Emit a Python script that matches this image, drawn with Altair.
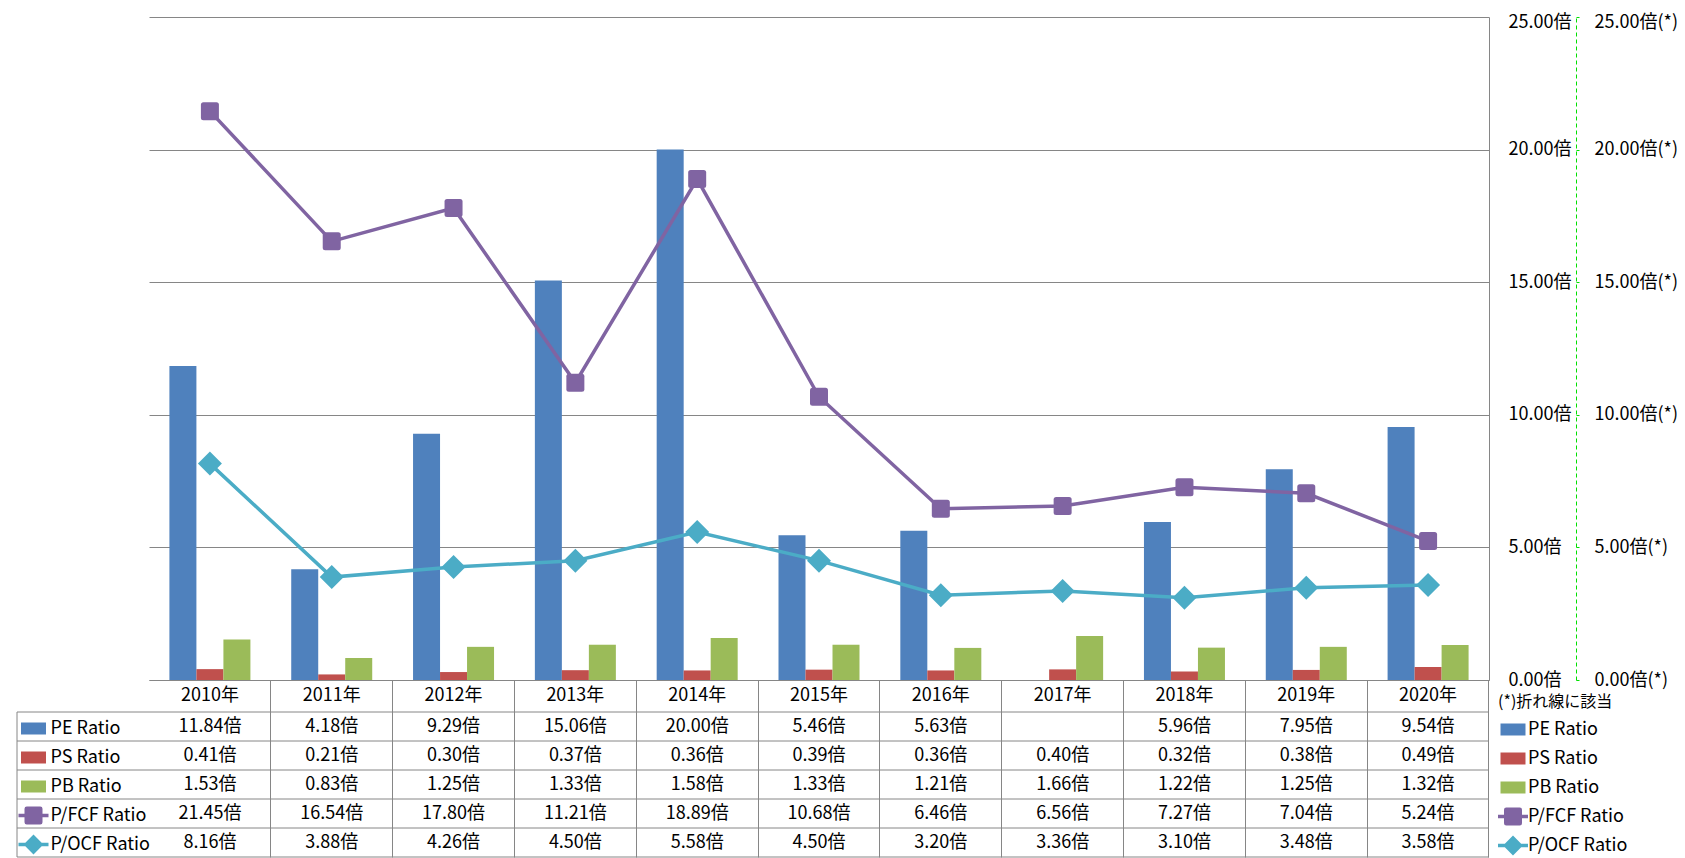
import altair as alt
import pandas as pd

# ---------------- data ----------------
years = ["2010年", "2011年", "2012年", "2013年", "2014年", "2015年",
         "2016年", "2017年", "2018年", "2019年", "2020年"]
series_names = ["PE Ratio", "PS Ratio", "PB Ratio", "P/FCF Ratio", "P/OCF Ratio"]
series_colors = ["#4F81BD", "#C0504D", "#9BBB59", "#8064A2", "#4BACC6"]
bar_series = ["PE Ratio", "PS Ratio", "PB Ratio"]
line_series = ["P/FCF Ratio", "P/OCF Ratio"]

pe_ratio = [11.84, 4.18, 9.29, 15.06, 20.00, 5.46, 5.63, None, 5.96, 7.95, 9.54]
ps_ratio = [0.41, 0.21, 0.30, 0.37, 0.36, 0.39, 0.36, 0.40, 0.32, 0.38, 0.49]
pb_ratio = [1.53, 0.83, 1.25, 1.33, 1.58, 1.33, 1.21, 1.66, 1.22, 1.25, 1.32]
pfcf_ratio = [21.45, 16.54, 17.80, 11.21, 18.89, 10.68, 6.46, 6.56, 7.27, 7.04, 5.24]
pocf_ratio = [8.16, 3.88, 4.26, 4.50, 5.58, 4.50, 3.20, 3.36, 3.10, 3.48, 3.58]

value_ticks = [0, 5, 10, 15, 20, 25]
unit = "倍"
line_unit = "倍(*)"
legend_note = "(*)折れ線に該当"

# ---------------- layout / style ----------------
FONT = "Noto Sans CJK JP"
FS = 18
GRAY = "#868686"
GREEN = "#00E000"
PAD_LEFT, PAD_TOP = 141, 9
PLOT_W, PLOT_H = 1340, 663
SVG_W, SVG_H = 1669, 850
HEADER_H, ROW_H = 32, 29
LABEL_COL_W = 132
BAR_W = 27
TOP_LABEL_NUDGE = 5
N_ROWS = len(series_names)
STEP = PLOT_W / len(years)
TABLE_TOP = PLOT_H
TABLE_BOTTOM = PLOT_H + HEADER_H + N_ROWS * ROW_H
HR = HEADER_H / ROW_H
BAR_PAD_OUTER = (STEP - BAR_W * len(bar_series)) / 2 / BAR_W

all_values = {"PE Ratio": pe_ratio, "PS Ratio": ps_ratio, "PB Ratio": pb_ratio,
              "P/FCF Ratio": pfcf_ratio, "P/OCF Ratio": pocf_ratio}

bar_rows, line_rows, table_rows = [], [], []
for s in bar_series:
    for y, v in zip(years, all_values[s]):
        if v is not None:
            bar_rows.append({"year": y, "series": s, "value": v})
for s in line_series:
    for y, v in zip(years, all_values[s]):
        line_rows.append({"year": y, "series": s, "value": v})
for y in years:
    table_rows.append({"year": y, "ty": -HR / 2, "label": y})
for i, s in enumerate(series_names):
    for y, v in zip(years, all_values[s]):
        table_rows.append({"year": y, "ty": i + 0.5,
                           "label": "" if v is None else f"{v:.2f}{unit}"})

bar_df = pd.DataFrame(bar_rows)
line_df = pd.DataFrame(line_rows)
table_df = pd.DataFrame(table_rows)
row_lines_df = pd.DataFrame({"b": list(range(N_ROWS + 1))})
left_border_df = pd.DataFrame({"b": [0], "b2": [N_ROWS]})
legend_df = pd.DataFrame({"series": series_names})

# ---------------- symbols ----------------
rect_sym = "M-0.833,-0.4H0.833V0.4H-0.833Z"
fcf_sym = ("M-1,-0.12H1V0.12H-1Z M-0.45,-0.6H0.45Q0.6,-0.6 0.6,-0.45V0.45"
           "Q0.6,0.6 0.45,0.6H-0.45Q-0.6,0.6 -0.6,0.45V-0.45Q-0.6,-0.6 -0.45,-0.6Z")
ocf_sym = "M-1,-0.12H1V0.12H-1Z M0,-0.66L0.66,0L0,0.66L-0.66,0Z"
legend_syms = [rect_sym, rect_sym, rect_sym, fcf_sym, ocf_sym]

sq_marker = ("M-0.65,-0.9H0.65Q0.9,-0.9 0.9,-0.65V0.65Q0.9,0.9 0.65,0.9"
             "H-0.65Q-0.9,0.9 -0.9,0.65V-0.65Q-0.9,-0.9 -0.65,-0.9Z")
dia_marker = "M0,-1.2L1.2,0L0,1.2L-1.2,0Z"

common_legend = dict(orient="none", direction="vertical", symbolSize=900,
                     symbolStrokeWidth=0, symbolOpacity=1, labelFontSize=FS,
                     labelFont=FONT, labelColor="black", rowPadding=4,
                     gridAlign="all", padding=0, labelLimit=400)

legend_left = alt.Legend(title=None, legendX=-LABEL_COL_W + 1.5, legendY=696.5,
                         labelOffset=2, **common_legend)
legend_right = alt.Legend(title=legend_note, titleFont=FONT, titleFontSize=16,
                          titleFontWeight="normal", titleColor="black",
                          titlePadding=5, legendX=PLOT_W + 9, legendY=676.5,
                          labelOffset=0, **common_legend)

fill_scale = alt.Scale(domain=series_names, range=series_colors)
shape_scale = alt.Scale(domain=series_names, range=legend_syms)
table_scale = alt.Scale(domain=[-HR, N_ROWS], range=[TABLE_TOP, TABLE_BOTTOM],
                        nice=False, zero=False)
top_label_offset = {"condition": {"test": f"datum.value == {value_ticks[-1]}",
                                  "value": TOP_LABEL_NUDGE}, "value": 0}

# ---------------- encodings ----------------
X = alt.X("year:N", sort=years, title=None,
          scale=alt.Scale(domain=years, paddingInner=0, paddingOuter=0),
          axis=alt.Axis(orient="bottom", labels=False, grid=False, domain=True,
                        domainColor=GRAY, ticks=True, tickColor=GRAY,
                        tickSize=TABLE_BOTTOM - TABLE_TOP, bandPosition=1))

YA = alt.Y("value:Q", title=None,
           scale=alt.Scale(domain=[0, 25], nice=False, zero=True),
           axis=alt.Axis(orient="right", values=value_ticks, grid=True, gridColor=GRAY,
                         domain=True, domainColor=GRAY, ticks=False, labelPadding=19,
                         labelAlign="left", labelFont=FONT, labelFontSize=FS,
                         labelColor="black", labelOffset=top_label_offset,
                         labelExpr=f"format(datum.value, '.2f') + '{unit}'"))
YB = alt.Y("value:Q", title=None,
           scale=alt.Scale(domain=[0, 25], nice=False, zero=True),
           axis=alt.Axis(orient="right", offset=87, values=value_ticks, grid=False,
                         domain=True, domainColor=GREEN, domainDash=[4, 3],
                         ticks=True, tickSize=3, tickColor=GREEN, labelPadding=15,
                         labelAlign="left", labelFont=FONT, labelFontSize=FS,
                         labelColor="black", labelOffset=top_label_offset,
                         labelExpr=f"format(datum.value, '.2f') + '{line_unit}'"))

FILL_NOLEG = alt.Fill("series:N", scale=fill_scale, legend=None)

bars = alt.Chart(bar_df).mark_bar(opacity=1).encode(
    x=X,
    xOffset=alt.XOffset("series:N", sort=bar_series,
                        scale=alt.Scale(domain=bar_series, paddingInner=0,
                                        paddingOuter=BAR_PAD_OUTER)),
    y=YA,
    fill=FILL_NOLEG,
)

lines = alt.Chart(line_df).mark_line(strokeWidth=3.5).encode(
    x=X, y=YB,
    stroke=alt.Stroke("series:N", scale=fill_scale, legend=None))
pts_fcf = alt.Chart(line_df).transform_filter(
    alt.datum.series == line_series[0]
).mark_point(filled=True, size=400, strokeWidth=0, opacity=1, shape=sq_marker).encode(
    x=X, y=YB, fill=FILL_NOLEG)
pts_ocf = alt.Chart(line_df).transform_filter(
    alt.datum.series == line_series[1]
).mark_point(filled=True, size=400, strokeWidth=0, opacity=1, shape=dia_marker).encode(
    x=X, y=YB, fill=FILL_NOLEG)
line_layer = alt.layer(lines, pts_fcf, pts_ocf)

leg_left = alt.Chart(legend_df).mark_point(filled=True, opacity=0).encode(
    fill=alt.Fill("series:N", scale=fill_scale, legend=legend_left),
    shape=alt.Shape("series:N", scale=shape_scale, legend=legend_left),
)
leg_right = alt.Chart(legend_df).mark_point(filled=True, opacity=0).encode(
    fill=alt.Fill("series:N", scale=fill_scale, legend=legend_right),
    shape=alt.Shape("series:N", scale=shape_scale, legend=legend_right),
)

# data table: cell texts + row separators + left border, all on one row scale
table_text = alt.Chart(table_df).mark_text(font=FONT, fontSize=FS, color="black",
                                           align="center", baseline="middle").encode(
    x=X,
    y=alt.Y("ty:Q", title=None, scale=table_scale, axis=None),
    text="label:N",
)
row_lines = alt.Chart(row_lines_df).mark_rule(color=GRAY, strokeWidth=1).encode(
    y=alt.Y("b:Q", scale=table_scale, axis=None),
    x=alt.value(-LABEL_COL_W), x2=alt.value(PLOT_W),
)
left_border = alt.Chart(left_border_df).mark_rule(color=GRAY, strokeWidth=1).encode(
    y=alt.Y("b:Q", scale=table_scale, axis=None),
    y2="b2:Q",
    x=alt.value(-LABEL_COL_W),
)
table_layer = alt.layer(row_lines, left_border, table_text)

chart = alt.layer(bars, line_layer, table_layer, leg_left, leg_right).resolve_scale(
    y="independent", fill="independent", shape="independent"
).properties(
    width=PLOT_W, height=PLOT_H,
    padding={"left": PAD_LEFT, "top": PAD_TOP,
             "right": SVG_W - PAD_LEFT - PLOT_W,
             "bottom": SVG_H - PAD_TOP - PLOT_H},
    autosize=alt.AutoSizeParams(type="none"),
).configure(font=FONT).configure_view(strokeWidth=0)

chart.save("out.html", embed_options={"renderer": "svg", "actions": False})
